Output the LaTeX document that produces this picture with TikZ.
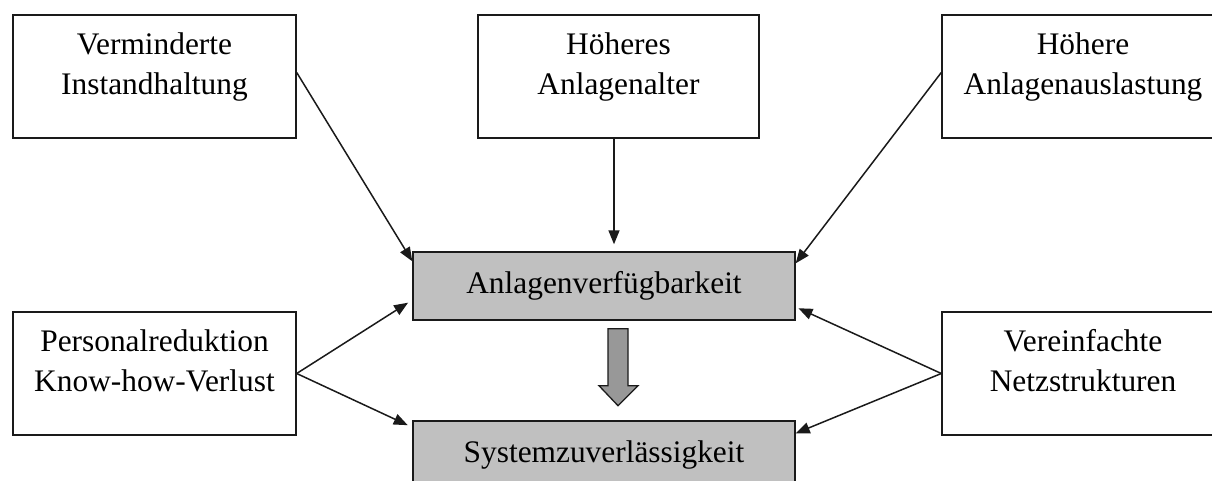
\documentclass[tikz,border=0pt]{standalone}
\usepackage{fontspec}
\setmainfont{Liberation Serif}
\usetikzlibrary{calc,arrows.meta}
\definecolor{boxgray}{HTML}{C0C0C0}
\definecolor{blockgray}{HTML}{989898}
\definecolor{ink}{HTML}{1A1A1A}
% two centred lines, first baseline 40bp below the top of the box
\newcommand\twolines[3]{\parbox[c][123bp][t]{#1}{\centering\rule{0pt}{40bp}#2\\#3}}
\begin{document}
\begin{tikzpicture}[x=1bp,y=-1bp,
  font=\fontsize{31.5}{40}\selectfont,
  cause/.style={draw=ink, line width=1.4bp, fill=white, inner sep=0pt},
  core/.style={draw=ink, line width=1.4bp, fill=boxgray, inner sep=0pt,
               minimum width=382bp, minimum height=68bp},
  link/.style={draw=ink, line width=1.5bp, -{Triangle[length=14bp,width=11bp]}},
  ]
\useasboundingbox (0,0) rectangle (1212,481);
\clip (0,0) rectangle (1212,481);
\fill[white] (0,0) rectangle (1212,481);

% influencing factors
\node[cause] (A) at (154.5,76.5) {\twolines{283bp}{Verminderte}{Instandhaltung}};
\node[cause] (B) at (618.5,76.5) {\twolines{281bp}{Höheres}{Anlagenalter}};
\node[cause] (C) at (1083,76.5)  {\twolines{282bp}{Höhere}{Anlagenauslastung}};
\node[cause] (D) at (154.5,373.5) {\twolines{283bp}{Personalreduktion}{Know-how-Verlust}};
\node[cause] (E) at (1083,373.5) {\twolines{282bp}{Vereinfachte}{Netzstrukturen}};

% central quantities
\node[core] (F) at (604,286) {Anlagenverfügbarkeit};
\node[core] (G) at (604,455) {Systemzuverlässigkeit};

% influences
\draw[link] ([yshift=4bp]A.east) -- ([yshift=-10bp]F.north west);
\draw[link, shorten >=7bp] ([xshift=-4.5bp]B.south) -- ([xshift=-4.5bp]B.south |- F.north);
\draw[link] ([yshift=4bp]C.west) -- ([yshift=-12bp]F.north east);
\draw[link, shorten >=5bp] (D.east) -- ([yshift=-14bp]F.west);
\draw[link, shorten >=5bp] (D.east) -- ([yshift=-7bp]G.north west);
\draw[link, shorten >=3bp] (E.west) -- ([yshift=-21bp]F.east);
\draw[link] (E.west) -- ([yshift=-13bp]G.north east);

% block arrow from availability to reliability
\coordinate (T) at ($(F.south)+(14,8)$);
\draw[ink, line width=1.3bp, fill=blockgray, line join=miter]
  ($(T)+(-10,0)$) -- ($(T)+(10,0)$) -- ($(T)+(10,57)$) -- ($(T)+(20,57)$)
  -- ($(T)+(0,77)$) -- ($(T)+(-19,57)$) -- ($(T)+(-10,57)$) -- cycle;
\end{tikzpicture}
\end{document}
